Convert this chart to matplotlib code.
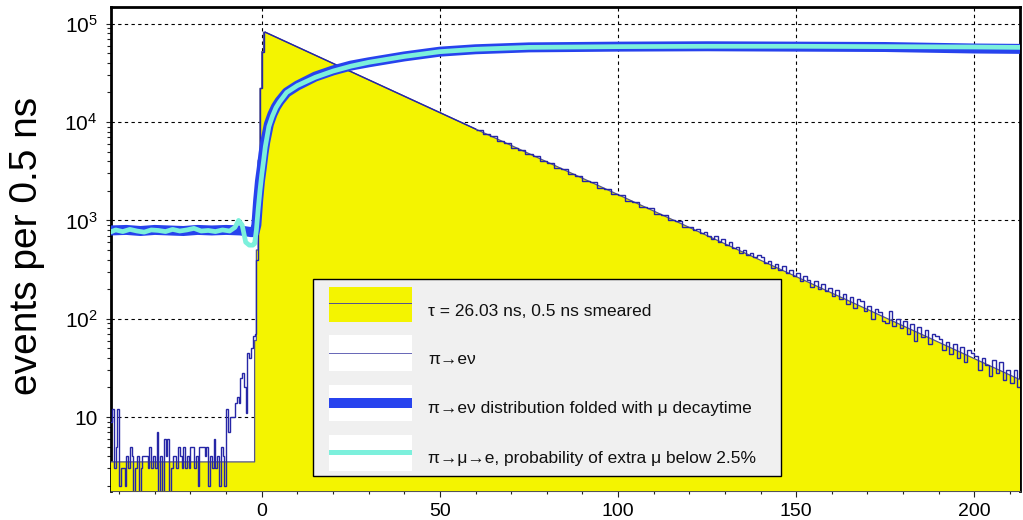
import numpy as np
import matplotlib
matplotlib.use('Agg')
import matplotlib.pyplot as plt
from matplotlib.patches import Rectangle
from matplotlib.ticker import FixedLocator, FuncFormatter, MultipleLocator, LogLocator, NullFormatter

plt.rcParams['font.family'] = ['Liberation Sans', 'DejaVu Sans']
plt.rcParams['mathtext.fontset'] = 'custom'
plt.rcParams['mathtext.rm'] = 'Liberation Sans'
plt.rcParams['mathtext.it'] = 'Liberation Sans:italic'
plt.rcParams['mathtext.bf'] = 'Liberation Sans:bold'

# ---------------- data ----------------
# smeared exponential (yellow histogram)
smeared_edges = [-42.5, -2.0, -1.5, -1.0, -0.5, 0.0, 0.5, 1.0]
smeared_counts = [3.5, 60, 500, 4100, 22000, 52000, 82000]
smeared_decay_x = [1.0, 212.8]
smeared_decay_y = [82000, 24]

# pi -> e nu histogram, 0.5 ns bins starting at -42.5 ns up to 1 ns
pienu_start = -42.5
pienu_bin = 0.5
pienu_counts_early = [
    9, 12, 3, 5, 12, 2, 3, 3, 2, 4, 3, 5, 4, 1, 3, 4, 1, 3, 4, 4,
    4, 3, 5, 3, 4, 3, 7, 1, 4, 1, 6, 4, 6, 1, 3, 4, 4, 3, 5, 4,
    3, 5, 3, 4, 3, 5, 5, 3, 4, 2, 5, 5, 5, 4, 5, 2, 4, 3, 6, 3,
    4, 2, 5, 4, 2,
    12, 7, 10, 10, 10, 14, 16, 14, 25, 28, 20, 11, 45, 40, 50, 66,
    70, 400, 4000, 22000, 52000, 82000]
# main decay part (coincides with the smeared curve)
pienu_decay_x = [1.0, 60.0]
pienu_decay_y = [82000, 8500]
# 2 ns bins from 60 ns to 120 ns
pienu_mid_start = 60.0
pienu_mid_bin = 2.0
pienu_mid_counts = [
    8300, 7500, 7150, 6450, 6100, 5500, 5250, 4700, 4500, 4050,
    3850, 3450, 3320, 2950, 2850, 2520, 2450, 2150, 2100, 1850,
    1800, 1580, 1550, 1360, 1330, 1160, 1140, 1000, 980, 860]
# tail, 1 ns bins from 120 ns
pienu_tail_start = 120.0
pienu_tail_bin = 1.0
pienu_tail_counts = [
    850, 800, 820, 740, 760, 700, 650, 700, 610, 640,
    560, 600, 520, 540, 470, 500, 440, 470, 420, 440,
    420, 370, 390, 330, 360, 310, 340, 290, 310, 270,
    290, 240, 270, 250, 210, 240, 200, 225, 190, 205,
    170, 195, 160, 180, 140, 165, 130, 160, 150, 120,
    135, 100, 125, 118, 95, 90, 120, 85, 100, 80,
    95, 70, 88, 60, 82, 65, 76, 55, 70, 66,
    62, 48, 58, 44, 55, 40, 52, 36, 48, 45,
    42, 30, 40, 34, 26, 38, 28, 36, 24, 30,
    22, 30, 20]

# pi -> e nu folded with mu decay time (thick blue)
folded_x = [-42.5, -38, -34, -30, -26, -22, -18, -14, -10, -6, -3, -2, -1.5, -1.0,
            -0.5, 0, 0.5, 1, 2, 3, 4, 5, 7, 10, 15, 20, 25, 30, 40, 50, 60,
            75, 100, 125, 150, 175, 200, 212.8]
folded_y = [790, 800, 780, 800, 790, 780, 800, 790, 800, 790, 760, 760, 900, 1600,
            2500, 3400, 4800, 6300, 9500, 12000, 14300, 16300, 20000, 23500, 29000,
            33500, 37500, 40500, 46500, 52000, 55000, 57500, 58500, 59000, 58500,
            58000, 56000, 55500]

# pi -> mu -> e (cyan)
pimue_x = [-42.5, -41, -39, -37, -35, -33, -31, -29, -27, -25, -23, -21, -19, -17,
           -15, -13, -11, -9, -7.5, -6.5, -5.5, -4.5, -3.5, -2.5, -2.0, -1.5, -1.0,
           -0.5, 0, 0.5, 1, 2, 3, 4, 5, 7, 10, 15, 20, 25, 30, 40, 50, 60, 75,
           100, 125, 150, 175, 200, 212.8]
pimue_y = [760, 800, 770, 810, 780, 760, 800, 790, 770, 810, 780, 800, 830, 780,
           790, 770, 800, 780, 850, 1000, 900, 600, 560, 560, 580, 800, 1300,
           2000, 2900, 4000, 5600, 9000, 11500, 14000, 16000, 20000, 23500, 28500,
           33000, 37000, 40500, 46500, 52000, 55000, 57500, 58500, 59000, 59000,
           58500, 58000, 57500]

legend_labels = ['τ = 26.03 ns, 0.5 ns smeared',
                 'π→eν',
                 'π→eν distribution folded with μ decaytime',
                 'π→μ→e, probability of extra μ below 2.5%']

ytick_values = [10, 100, 1e3, 1e4, 1e5]

# ---------------- styling ----------------
YELLOW = '#f4f400'
EDGE = '#55558e'
NAVY = '#2626a6'
BLUE = '#2743ee'
CYAN = '#7cf0dc'

W, H = 1023, 520
fig = plt.figure(figsize=(W / 100, H / 100), dpi=100)


def fx(px):
    return px / W


def fy(py):
    return 1 - py / H


ax = fig.add_axes([fx(111), fy(491), fx(1020) - fx(111), fy(7) - fy(491)])
ax.set_yscale('log')
ax.set_xlim(-42.3, 212.8)
ax.set_ylim(1.77, 1.48e5)

# yellow smeared histogram
e = np.array(smeared_edges, dtype=float)
c = np.array(smeared_counts, dtype=float)
xs = np.concatenate([np.repeat(e, 2)[1:-1], smeared_decay_x])
ys = np.concatenate([np.repeat(c, 2), smeared_decay_y])
ax.fill_between(xs, 1e-3, ys, color=YELLOW, lw=0, zorder=1)
ax.plot(xs, ys, color=EDGE, lw=0.9, zorder=2)

# pi -> e nu histogram
early = np.array(pienu_counts_early, dtype=float)
early_edges = pienu_start + pienu_bin * np.arange(len(early) + 1)
ax.stairs(early, early_edges, baseline=None, color=NAVY, lw=1.0, zorder=3)
ax.plot(pienu_decay_x, pienu_decay_y, color=NAVY, lw=1.0, zorder=3)
mid = np.array(pienu_mid_counts, dtype=float)
mid_edges = pienu_mid_start + pienu_mid_bin * np.arange(len(mid) + 1)
ax.stairs(mid, mid_edges, baseline=None, color=NAVY, lw=1.0, zorder=3)
tail = np.array(pienu_tail_counts, dtype=float)
tail_edges = pienu_tail_start + pienu_tail_bin * np.arange(len(tail) + 1)
ax.stairs(tail, tail_edges, baseline=None, color=NAVY, lw=1.0, zorder=3)

# thick curves
ax.plot(folded_x, folded_y, color=BLUE, lw=7.2, zorder=4,
        solid_joinstyle='round', solid_capstyle='butt')
ax.plot(pimue_x, pimue_y, color=CYAN, lw=3.4, zorder=5,
        solid_joinstyle='round', solid_capstyle='butt')

# axes, ticks, grid
ax.yaxis.set_major_locator(FixedLocator(ytick_values))


def yfmt(v, pos):
    ex = int(round(np.log10(v)))
    return '10' if ex == 1 else r'$\mathregular{10^{%d}}$' % ex


ax.yaxis.set_major_formatter(FuncFormatter(yfmt))
ax.yaxis.set_minor_locator(LogLocator(base=10, subs=np.arange(2, 10) * 1.0, numticks=20))
ax.yaxis.set_minor_formatter(NullFormatter())
ax.xaxis.set_major_locator(MultipleLocator(50))
ax.xaxis.set_minor_locator(MultipleLocator(10))
ax.tick_params(axis='both', which='both', direction='out', top=False, right=False,
               color='#222222', width=0.8)
ax.tick_params(axis='x', which='major', length=4.3, labelsize=14, pad=4)
ax.tick_params(axis='x', which='minor', length=2.5)
ax.tick_params(axis='y', which='major', length=3.8, labelsize=15, pad=6)
ax.tick_params(axis='y', which='minor', length=2.6)

ax.grid(True, which='major', color='black', linestyle=(0, (3, 3)), linewidth=0.8)
ax.set_axisbelow(True)

for side in ['left', 'top', 'right']:
    ax.spines[side].set_linewidth(2.0)
    ax.spines[side].set_color('black')
ax.spines['bottom'].set_linewidth(0.8)
ax.spines['bottom'].set_color('#555555')
for sp in ax.spines.values():
    sp.set_zorder(0.9)

# y label
fig.text(fx(27), fy(246), 'events per 0.5 ns', rotation=90, fontsize=28,
         ha='center', va='center')


# legend (drawn by hand, ROOT style)
def frect(x0, y0, x1, y1, **kw):
    r = Rectangle((fx(x0), fy(y1)), fx(x1) - fx(x0), fy(y0) - fy(y1),
                  transform=fig.transFigure, **kw)
    fig.add_artist(r)
    return r


frect(313, 279, 781, 476, facecolor='#f0f0f0', edgecolor='black', lw=1.0, zorder=10)
rows = [(287, 322), (335, 371), (385, 421), (435, 471)]
baselines = [316, 364, 413, 463]
frect(329, rows[0][0], 412, rows[0][1], facecolor=YELLOW, edgecolor='none', zorder=11)
for r in rows[1:]:
    frect(329, r[0], 412, r[1], facecolor='white', edgecolor='none', zorder=11)
frect(329, 302.8, 412, 303.8, facecolor=EDGE, edgecolor='none', zorder=12)
frect(329, 352.8, 412, 353.8, facecolor='#6a6ab8', edgecolor='none', zorder=12)
frect(329, 398, 412, 407.5, facecolor=BLUE, edgecolor='none', zorder=12)
frect(329, 450, 412, 454.5, facecolor=CYAN, edgecolor='none', zorder=12)
for lab, b in zip(legend_labels, baselines):
    fig.text(fx(428), fy(b), lab, fontsize=12.5, ha='left', va='baseline',
             color='#111111', zorder=13)

fig.savefig('out.png', dpi=100)
